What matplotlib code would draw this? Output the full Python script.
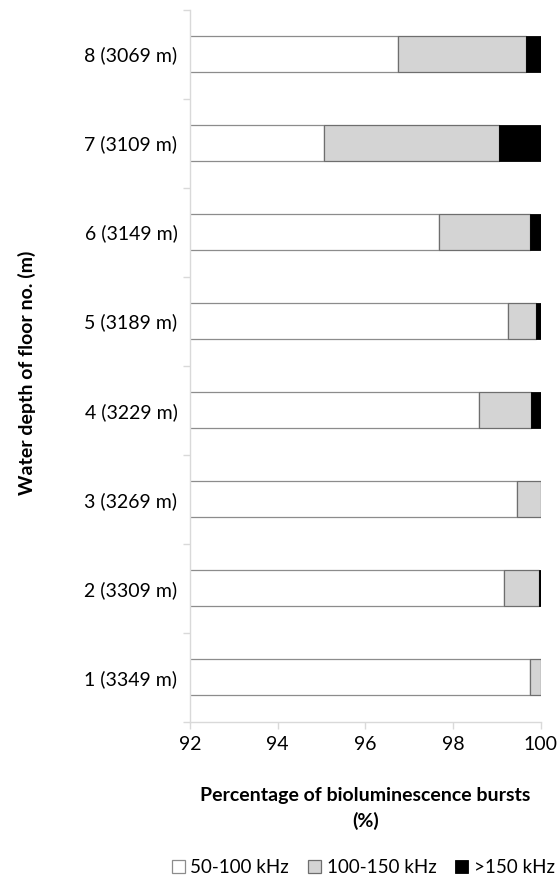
import matplotlib.pyplot as plt
from matplotlib.ticker import FixedLocator
import numpy as np

plt.rcParams['font.family'] = ['Lato', 'DejaVu Sans']

floors = ['1 (3349 m)', '2 (3309 m)', '3 (3269 m)', '4 (3229 m)',
          '5 (3189 m)', '6 (3149 m)', '7 (3109 m)', '8 (3069 m)']
low = [99.76, 99.15, 99.46, 98.58, 99.26, 97.67, 95.05, 96.75]     # 50-100 kHz
mid = [0.24, 0.80, 0.54, 1.20, 0.64, 2.09, 3.99, 2.92]             # 100-150 kHz
high = [0.00, 0.05, 0.00, 0.22, 0.10, 0.24, 0.96, 0.33]            # >150 kHz
xticks = [92, 94, 96, 98, 100]

fig = plt.figure(figsize=(5.57, 8.77), dpi=100)
ax = fig.add_axes([0.341, 0.177, 0.630, 0.812])

y = np.arange(len(floors))
low = np.array(low)
mid = np.array(mid)
high = np.array(high)
h = 0.4
ax.barh(y, low, height=h, color='white', edgecolor='#8c8c8c', lw=0.9, label='50-100 kHz')
ax.barh(y, mid, left=low, height=h, color='#d4d4d4', edgecolor='#6e6e6e', lw=0.9, label='100-150 kHz')
ax.barh(y, high, left=low + mid, height=h, color='black', edgecolor='black', lw=0.6, label='>150 kHz')

ax.set_xlim(92, 100)
ax.set_ylim(-0.5, len(floors) - 0.5)
ax.set_xticks(xticks)
ax.set_xticklabels([str(t) for t in xticks], fontsize=14)
ax.set_yticks(y)
ax.set_yticklabels(floors, fontsize=14)
ax.yaxis.set_minor_locator(FixedLocator(np.arange(-0.5, len(floors), 1.0)))
ax.tick_params(axis='y', which='major', length=0, pad=9)
ax.tick_params(axis='y', which='minor', length=5, color='#d9d9d9', width=1)
ax.tick_params(axis='x', length=5, color='#d9d9d9', width=1, pad=5)

for s in ['top', 'right']:
    ax.spines[s].set_visible(False)
for s in ['left', 'bottom']:
    ax.spines[s].set_color('#d9d9d9')
    ax.spines[s].set_linewidth(1)

ax.set_xlabel('Percentage of bioluminescence bursts\n(%)', fontsize=14,
              fontweight='bold', linespacing=1.55)
ax.xaxis.set_label_coords(0.5, -0.091)
ax.set_ylabel('Water depth of floor no. (m)', fontsize=14, fontweight='bold')
ax.yaxis.set_label_coords(-0.44, 0.49)

fig.legend(loc='center', bbox_to_anchor=(0.652, 0.011), ncol=3, frameon=False,
           fontsize=13.5, handlelength=0.7, handleheight=0.7, handletextpad=0.3,
           columnspacing=1.0, borderaxespad=0, borderpad=0)

fig.savefig('out.png', dpi=100)
